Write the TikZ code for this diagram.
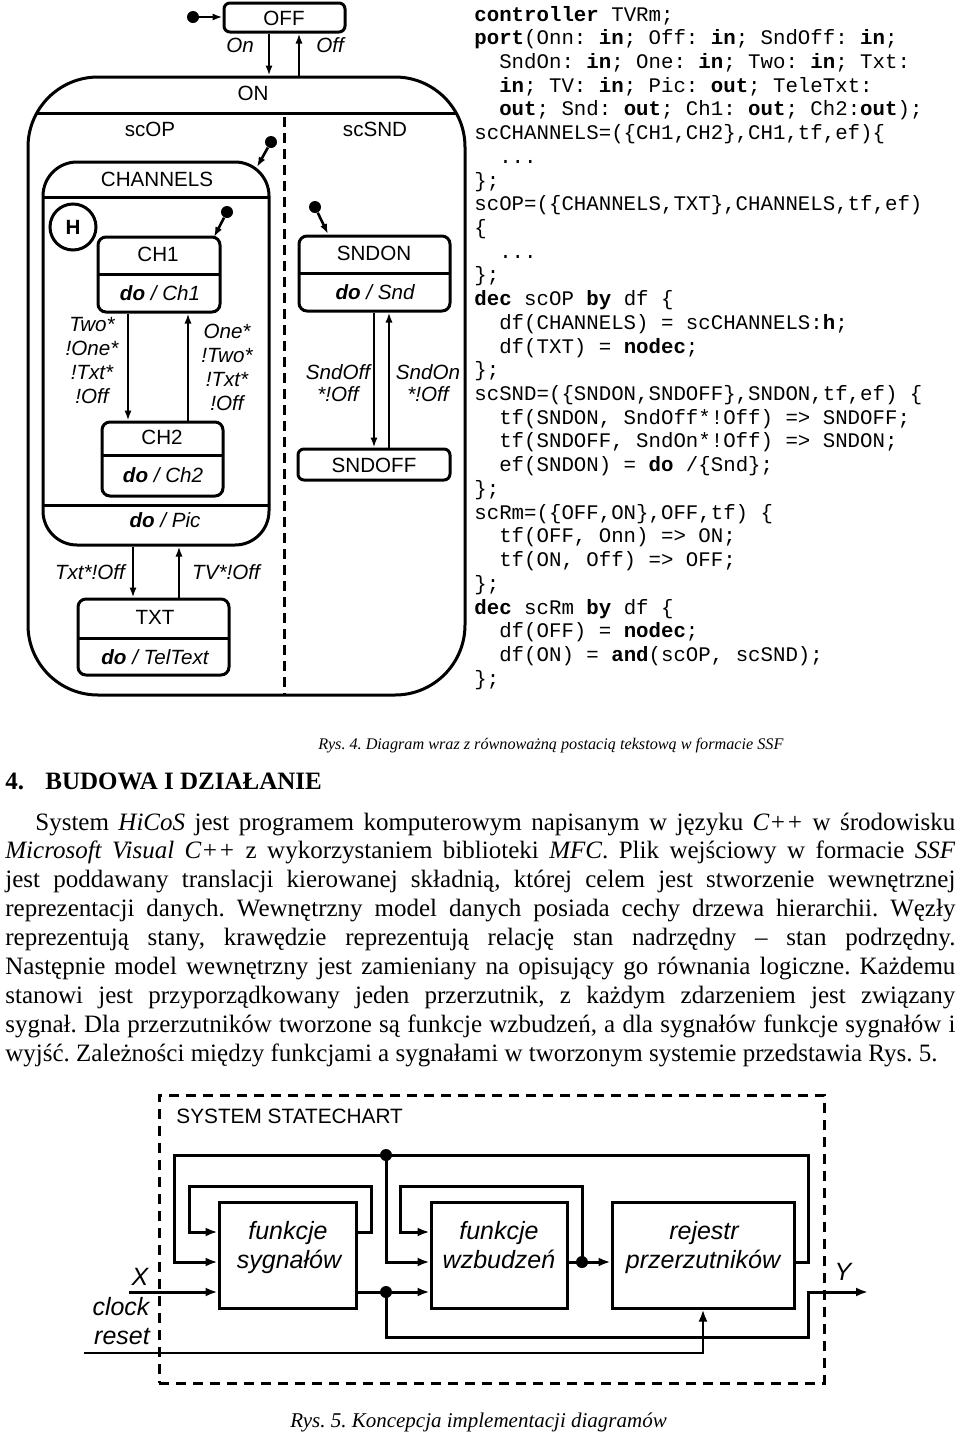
\documentclass[tikz,border=0pt]{standalone}
\usepackage{fontspec}
\setmainfont{Liberation Serif}
\setsansfont{Liberation Sans}
\newfontfamily\codefont{Liberation Mono}
\usetikzlibrary{arrows.meta,fit,calc}
\frenchspacing

\newcommand\kw[1]{\textbf{#1}}
\newcommand\ind{\phantom{xx}}
\newcommand\codeline[2]{\node[code] (code#1) at (474,{21+(#1-1)*23.72}) {#2};}
\newcommand\pline[3]{\node[body] (par#1) at (#2,{830+(#1-1)*28.9}) {#3};}

\tikzset{
  sf/.style={font=\sffamily\fontsize{10.3pt}{12pt}\selectfont, inner sep=0, align=center},
  sfi/.style={font=\sffamily\itshape\fontsize{10.3pt}{12pt}\selectfont, inner sep=0, align=center},
  sfis/.style={font=\sffamily\itshape\fontsize{10.3pt}{11pt}\selectfont, inner sep=0, align=center},
  sbox/.style={draw, line width=1.5pt, rounded corners=4pt, inner sep=0},
  sepline/.style={line width=1.5pt},
  trans/.style={line width=1pt, -{Latex[length=5pt,width=3.6pt]}},
  initdot/.style={circle, fill, minimum size=6pt, inner sep=0},
  initarr/.style={line width=1.3pt, -{Latex[length=5pt,width=3.6pt]}},
  code/.style={font=\codefont\frenchspacing\fontsize{10.37pt}{11.86pt}\selectfont, anchor=base west, inner sep=0},
  body/.style={font=\frenchspacing\fontsize{12.5pt}{14pt}\selectfont, anchor=base west, inner sep=0},
  blk/.style={draw, line width=1.5pt, inner sep=0},
  wire/.style={line width=1.5pt},
  warr/.style={line width=1.5pt, -{Latex[length=6pt,width=4.5pt]}},
  jdot/.style={circle, fill, minimum size=6pt, inner sep=0},
  bi/.style={font=\sffamily\itshape\fontsize{12.5pt}{14.5pt}\selectfont, inner sep=0},
}

\begin{document}
\begin{tikzpicture}[x=0.5pt,y=-0.5pt]
\useasboundingbox (0,0) rectangle (960,1436);

% ---------------- statechart ----------------
\node[sbox, rounded corners=3pt, fit={(224,3) (345,32)}] (off) {};
\node[sf] (offt) at (284,18) {OFF};
\node[initdot] (i0) at (193,17) {};
\draw[initarr] (i0) -- (off.west |- i0);

\node[fit={(28,77) (465,695)}, draw, line width=1.5pt, rounded corners=35pt, inner sep=0] (on) {};
\draw[sepline] (36.8,113) -- (456,113);
\node[sf] (ont) at (253,93) {ON};
\draw[line width=1.5pt, dash pattern=on 5pt off 3pt] (284,117) -- (284,695);

\coordinate (xa) at (269,0);
\coordinate (xb) at (299,0);
\draw[trans] (off.south -| xa) -- (on.north -| xa);
\draw[trans] (on.north -| xb) -- (off.south -| xb);
\node[sfi] (lon) at (240,45) {On};
\node[sfi] (loff) at (330,45) {Off};

\node[sf] (scop) at (150,129) {scOP};
\node[sf] (scsnd) at (375,129) {scSND};

% CHANNELS
\node[sbox, rounded corners=17pt, fit={(43,162) (269,545)}] (chan) {};
\draw[sepline] (43,197) -- (269,197);
\draw[sepline] (43,505) -- (269,505);
\node[sf] (chant) at (157,179) {CHANNELS};
\node[sfi] (pic) at (165,520) {\textbf{do} / Pic};
\node[initdot] (i1) at (271,142) {};
\coordinate (i1e) at (257,167);
\draw[initarr] (i1) -- (i1e);

\node[circle, draw, line width=1.5pt, minimum size=23pt, inner sep=0,
      font=\sffamily\bfseries\fontsize{10.3pt}{12pt}\selectfont] (hist) at (73,227) {H};

% CH1
\node[sbox, fit={(98,237) (220,312)}] (ch1) {};
\draw[sepline] (98,274) -- (220,274);
\node[sf] (ch1t) at (158,254) {CH1};
\node[sfi] (ch1d) at (160,293) {\textbf{do} / Ch1};
\node[initdot] (i2) at (227,212) {};
\coordinate (i2e) at (214,237);
\draw[initarr] (i2) -- (i2e);

% CH2
\node[sbox, fit={(102,422) (223,496)}] (ch2) {};
\draw[sepline] (102,455) -- (223,455);
\node[sf] (ch2t) at (162,437) {CH2};
\node[sfi] (ch2d) at (163,475) {\textbf{do} / Ch2};

\coordinate (xc) at (128,0);
\coordinate (xd) at (188,0);
\draw[trans] (ch1.south -| xc) -- (ch2.north -| xc);
\draw[trans] (ch2.north -| xd) -- (ch1.south -| xd);
\node[sfi] (l12) at (92,361) {Two*\\!One*\\!Txt*\\!Off};
\node[sfi] (l21) at (227,367) {One*\\!Two*\\!Txt*\\!Off};

% TXT
\node[sbox, fit={(78,599) (229,675)}] (txt) {};
\draw[sepline] (78,638) -- (229,638);
\node[sf] (txtt) at (155,617) {TXT};
\node[sfi] (txtd) at (155,657) {\textbf{do} / TelText};
\coordinate (xe) at (133,0);
\coordinate (xf) at (179,0);
\draw[trans] (chan.south -| xe) -- (txt.north -| xe);
\draw[trans] (txt.north -| xf) -- (chan.south -| xf);
\node[sfi] (lct) at (90,572) {Txt*!Off};
\node[sfi] (ltc) at (226,572) {TV*!Off};

% SNDON / SNDOFF
\node[sbox, fit={(299,236) (450,311)}] (sndon) {};
\draw[sepline] (299,273) -- (450,273);
\node[sf] (sndont) at (374,253) {SNDON};
\node[sfi] (sndond) at (375,292) {\textbf{do} / Snd};
\node[initdot] (i3) at (315,207) {};
\coordinate (i3e) at (328,234);
\draw[initarr] (i3) -- (i3e);

\node[sbox, rounded corners=3pt, fit={(298,449) (450,480)}] (sndoff) {};
\node[sf] (sndofft) at (374,465) {SNDOFF};
\coordinate (xg) at (374,0);
\coordinate (xh) at (389,0);
\draw[trans] (sndon.south -| xg) -- (sndoff.north -| xg);
\draw[trans] (sndoff.north -| xh) -- (sndon.south -| xh);
\node[sfis] (lso) at (338,383) {SndOff\\*!Off};
\node[sfis] (lsn) at (428,383) {SndOn\\*!Off};

% ---------------- code ----------------
\codeline{1}{\kw{controller} TVRm;}
\codeline{2}{\kw{port}(Onn: \kw{in}; Off: \kw{in}; SndOff: \kw{in};}
\codeline{3}{\ind SndOn: \kw{in}; One: \kw{in}; Two: \kw{in}; Txt:}
\codeline{4}{\ind\kw{in}; TV: \kw{in}; Pic: \kw{out}; TeleTxt:}
\codeline{5}{\ind\kw{out}; Snd: \kw{out}; Ch1: \kw{out}; Ch2:\kw{out});}
\codeline{6}{scCHANNELS=(\{CH1,CH2\},CH1,tf,ef)\{}
\codeline{7}{\ind...}
\codeline{8}{\};}
\codeline{9}{scOP=(\{CHANNELS,TXT\},CHANNELS,tf,ef)}
\codeline{10}{\{}
\codeline{11}{\ind...}
\codeline{12}{\};}
\codeline{13}{\kw{dec} scOP \kw{by} df \{}
\codeline{14}{\ind df(CHANNELS) = scCHANNELS:\kw{h};}
\codeline{15}{\ind df(TXT) = \kw{nodec};}
\codeline{16}{\};}
\codeline{17}{scSND=(\{SNDON,SNDOFF\},SNDON,tf,ef) \{}
\codeline{18}{\ind tf(SNDON, SndOff*!Off) => SNDOFF;}
\codeline{19}{\ind tf(SNDOFF, SndOn*!Off) => SNDON;}
\codeline{20}{\ind ef(SNDON) = \kw{do} /\{Snd\};}
\codeline{21}{\};}
\codeline{22}{scRm=(\{OFF,ON\},OFF,tf) \{}
\codeline{23}{\ind tf(OFF, Onn) => ON;}
\codeline{24}{\ind tf(ON, Off) => OFF;}
\codeline{25}{\};}
\codeline{26}{\kw{dec} scRm \kw{by} df \{}
\codeline{27}{\ind df(OFF) = \kw{nodec};}
\codeline{28}{\ind df(ON) = \kw{and}(scOP, scSND);}
\codeline{29}{\};}

% ---------------- captions and text ----------------
\node[font=\itshape\fontsize{8.1pt}{10pt}\selectfont, anchor=base west, inner sep=0] (cap4) at (318,749)
  {Rys. 4. Diagram wraz z równoważną postacią tekstową w formacie SSF};
\node[body, font=\bfseries\fontsize{12.5pt}{14pt}\selectfont] (h4n) at (5,789) {4.};
\node[body, font=\bfseries\fontsize{12.5pt}{14pt}\selectfont] (h4) at (45,789) {BUDOWA I DZIAŁANIE};

\pline{1}{35}{\makebox[460pt][s]{System \textit{HiCoS} jest programem komputerowym napisanym w języku \textit{C++} w środowisku}}
\pline{2}{5}{\makebox[475pt][s]{\textit{Microsoft Visual C++} z wykorzystaniem biblioteki \textit{MFC}. Plik wejściowy w formacie \textit{SSF}}}
\pline{3}{5}{\makebox[475pt][s]{jest poddawany translacji kierowanej składnią, której celem jest stworzenie wewnętrznej}}
\pline{4}{5}{\makebox[475pt][s]{reprezentacji danych. Wewnętrzny model danych posiada cechy drzewa hierarchii. Węzły}}
\pline{5}{5}{\makebox[475pt][s]{reprezentują stany, krawędzie reprezentują relację stan nadrzędny – stan podrzędny.}}
\pline{6}{5}{\makebox[475pt][s]{Następnie model wewnętrzny jest zamieniany na opisujący go równania logiczne. Każdemu}}
\pline{7}{5}{\makebox[475pt][s]{stanowi jest przyporządkowany jeden przerzutnik, z każdym zdarzeniem jest związany}}
\pline{8}{5}{\makebox[475pt][s]{sygnał. Dla przerzutników tworzone są funkcje wzbudzeń, a dla sygnałów funkcje sygnałów i}}
\pline{9}{5}{wyjść. Zależności między funkcjami a sygnałami w tworzonym systemie przedstawia Rys. 5.}

% ---------------- Rys. 5 ----------------
\node[draw, line width=1.5pt, dash pattern=on 5pt off 3.5pt, fit={(159,1095) (824,1383)}, inner sep=0] (sys) {};
\node[font=\sffamily\fontsize{10.4pt}{12pt}\selectfont, anchor=west, inner sep=0] (syst) at (176,1116) {SYSTEM STATECHART};

\node[blk, fit={(219,1202) (356,1308)}] (fs) {};
\node[bi, anchor=base] (fs1) at (288,1239) {funkcje};
\node[bi, anchor=base] (fs2) at (289,1268) {sygnałów};
\node[blk, fit={(431,1202) (567,1308)}] (fw) {};
\node[bi, anchor=base] (fw1) at (499,1239) {funkcje};
\node[bi, anchor=base] (fw2) at (499,1268) {wzbudzeń};
\node[blk, fit={(612,1202) (794,1308)}] (rp) {};
\node[bi, anchor=base] (rp1) at (704,1239) {rejestr};
\node[bi, anchor=base] (rp2) at (703,1268) {przerzutników};

\coordinate (ly1) at (0,1232);
\coordinate (ly2) at (0,1262);
\coordinate (ly3) at (0,1292);
\coordinate (cx) at (703,0);
\coordinate (yout) at (868,1292);
\coordinate (xin) at (129,1292);
\coordinate (cin) at (84,1353);

\draw[warr] (rp.east |- ly2) -| (808,1155) -| (174,1262) -- (fs.west |- ly2);
\node[jdot] (d1) at (386,1155) {};
\draw[warr] (d1.center) |- (fw.west |- ly2);
\draw[warr] (fs.east |- ly1) -| (371,1186) -| (189,1232) -- (fs.west |- ly1);
\node[jdot] (d2) at (582,1262) {};
\draw[wire] (fw.east |- ly2) -- (d2.center);
\draw[warr] (d2.center) -- (rp.west |- ly2);
\draw[warr] (d2.center) |- (400,1186) |- (fw.west |- ly1);
\node[jdot] (d3) at (386,1292) {};
\draw[wire] (fs.east |- ly3) -- (d3.center);
\draw[warr] (d3.center) -- (fw.west |- ly3);
\draw[warr] (d3.center) |- (808,1337) |- (yout);
\draw[warr] (xin) -- (fs.west |- ly3);
\draw[line width=1.2pt, -{Latex[length=6pt,width=4.5pt]}] (cin) -| (rp.south -| cx);

\node[bi] (lx) at (140,1277) {X};
\node[bi] (lclk) at (121,1307) {clock};
\node[bi] (lrst) at (122,1337) {reset};
\node[bi] (ly) at (843,1272) {Y};

\node[font=\itshape\fontsize{10.5pt}{12pt}\selectfont, anchor=base west, inner sep=0] (cap5) at (290,1427)
  {Rys. 5. Koncepcja implementacji diagramów};
\end{tikzpicture}
\end{document}
